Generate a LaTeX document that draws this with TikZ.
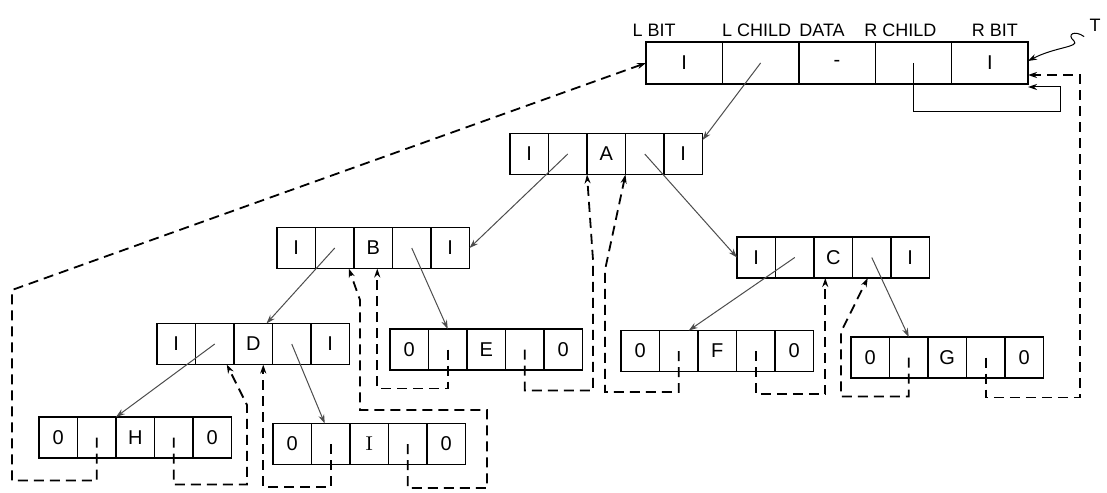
\documentclass[tikz,border=0pt]{standalone}
\usepackage{fontspec}
\setsansfont{Liberation Sans}
\usepackage{tikz}
\usetikzlibrary{positioning, arrows.meta}
\tikzset{
  cell/.style={rectangle, draw=black, line width=0.7pt, minimum width=19.25pt, minimum height=20.5pt, inner sep=0pt, outer sep=0pt, font=\sffamily\fontsize{10}{12}\selectfont},
  headcell/.style={cell, minimum width=38.2pt, minimum height=21pt},
  lbl/.style={font=\sffamily\fontsize{9}{11}\selectfont, inner sep=2.5pt},
  link/.style={-{Stealth[length=4.5pt,width=3pt]}, line width=0.5pt, draw=black!70},
  thread/.style={-{Stealth[length=4.5pt,width=3pt]}, line width=0.9pt, dash pattern=on 5pt off 3pt}
}
% one record: name, west point, five fields
\newcommand{\threadrec}[7]{%
  \node[cell, anchor=west] (#1-1) at (#2) {#3};
  \node[cell, right=0pt of #1-1] (#1-2) {#4};
  \node[cell, right=0pt of #1-2] (#1-3) {#5};
  \node[cell, right=0pt of #1-3] (#1-4) {#6};
  \node[cell, right=0pt of #1-4] (#1-5) {#7};
}
\begin{document}
\begin{tikzpicture}[x=0.5pt, y=-0.5pt]
    \useasboundingbox (0,0) rectangle (1107,492);

    % head node
    \node[headcell, anchor=west] (head-1) at (646,63) {I};
    \node[headcell, right=0pt of head-1] (head-2) {};
    \node[headcell, right=0pt of head-2] (head-3) {-};
    \node[headcell, right=0pt of head-3] (head-4) {};
    \node[headcell, right=0pt of head-4] (head-5) {I};

    \node[lbl, above=0pt of head-1, xshift=-15pt] (lbit) {L BIT};
    \node[lbl, above=0pt of head-2, xshift=-2pt] (lchild) {L CHILD};
    \node[lbl, above=0pt of head-3, xshift=-7.5pt] (data) {DATA};
    \node[lbl, above=0pt of head-4, xshift=-6.5pt] (rchild) {R CHILD};
    \node[lbl, above=0pt of head-5, xshift=2.5pt] (rbit) {R BIT};
    \node[lbl] (T) at (1095,25) {T};

    % tree records
    \threadrec{A}{510,154}{I}{}{A}{}{I}
    \threadrec{B}{277,248}{I}{}{B}{}{I}
    \threadrec{C}{737,257.5}{I}{}{C}{}{I}
    \threadrec{D}{157,344}{I}{}{D}{}{I}
    \threadrec{E}{390,349.5}{0}{}{E}{}{0}
    \threadrec{F}{621,351}{0}{}{F}{}{0}
    \threadrec{G}{851,357.5}{0}{}{G}{}{0}
    \threadrec{H}{39,437.5}{0}{}{H}{}{0}
    \threadrec{I}{273,444}{0}{}{\rmfamily I}{}{0}

    % child links
    \draw[link] (head-2.center) -- (A-5.36);
    \draw[link] (A-2.center) -- (B-5.east);
    \draw[link] (A-4.center) -- (C-1.west);
    \draw[link] (B-2.center) -- ([xshift=-3pt]D-3.north east);
    \draw[link] (B-4.center) -- (E-2.north);
    \draw[link] (C-2.center) -- ([xshift=5pt]F-2.north);
    \draw[link] (C-4.center) -- (G-2.north);
    \draw[link] (D-2.center) -- (H-2.north east);
    \draw[link] (D-4.center) -- ([xshift=-3pt]I-2.north);
    \draw[link, draw=black] (head-4.center) -- ++(0,49) -| (1060,87) -- ([yshift=-12pt]head-5.east);
    \draw[link, draw=black] (T.south west) .. controls (1075,30) and (1066,34) .. (1074,41)
        .. controls (1080,47) and (1055,47) .. ([yshift=1pt]head-5.east);

    % threads
    \draw[thread] (H-2.center) -- ++(0,43) -| (12,290) -- (head-1.west);
    \draw[thread] (H-4.center) -- ++(0,47) -| (247,405) -- ([xshift=6pt]D-2.south);
    \draw[thread] (I-2.center) -- ++(0,43) -| ([xshift=5pt]D-3.south);
    \draw[thread] (I-4.center) -- ++(0,44) -| (487,410) -| (360,300) -- ([xshift=7pt]B-2.south);
    \draw[thread] (E-2.center) -- ++(0,39) -| ([xshift=2pt]B-3.south);
    \draw[thread] (E-4.center) -- ++(0,41) -| (593,260) -- (A-2.south east);
    \draw[thread] (F-2.center) -- ++(0,41) -| (605,270) -- (A-3.south east);
    \draw[thread] (F-4.center) -- ++(0,43) -| ([xshift=-4pt]C-3.south);
    \draw[thread] (G-2.center) -- ++(0,39) -| (841,332) -- ([xshift=-2pt]C-4.south);
    \draw[thread] (G-4.center) -- ++(0,40) -| (1080,75) -- ([yshift=-6pt]head-5.east);

\end{tikzpicture}
\end{document}
